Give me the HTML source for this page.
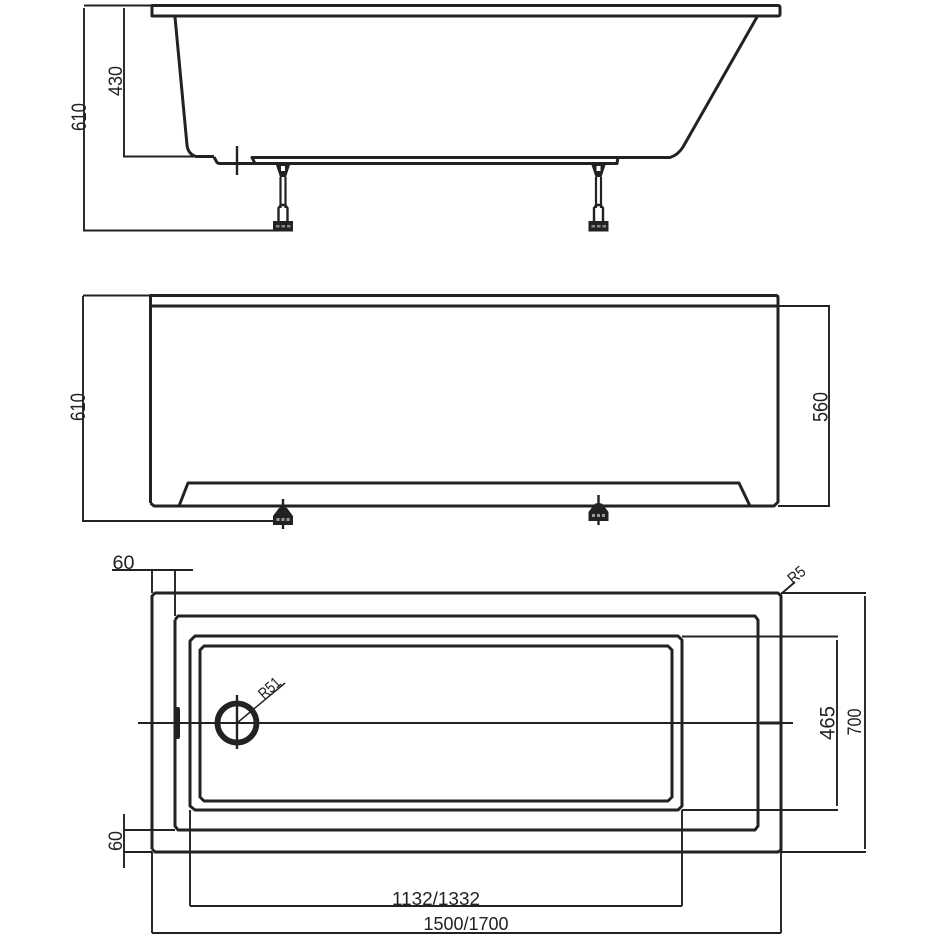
<!DOCTYPE html>
<html><head><meta charset="utf-8"><style>
html,body{margin:0;padding:0;background:#fff}
svg{display:block}
text{font-family:"Liberation Sans",sans-serif;font-size:19px;fill:#222;text-anchor:middle}
.t{stroke:#222;stroke-width:3;fill:none;stroke-linejoin:round}
.m{stroke:#222;stroke-width:1.9;fill:none}
</style></head><body>
<svg width="936" height="936" viewBox="0 0 936 936" xmlns="http://www.w3.org/2000/svg">
<defs>
<g id="leg">
<path d="M-8 162H8L3 177H-3Z" fill="#222"/>
<rect x="-2" y="166" width="4" height="5" fill="#fff"/>
<path d="M-2.500 177V208M2.500 177V208" stroke="#222" stroke-width="2.200" fill="none"/>
<path d="M-4.500 221V208L-2 205H2L4.500 208V221" stroke="#222" stroke-width="2.400" fill="none"/>
<rect x="-10" y="221" width="20" height="10.500" fill="#222"/>
<rect x="-7" y="225" width="3.500" height="2.500" fill="#888"/><rect x="-1.500" y="225" width="3.500" height="2.500" fill="#888"/><rect x="4" y="225" width="3.500" height="2.500" fill="#888"/>
</g>
<g id="foot">
<path d="M-1.200 0H1.200V8L4 9L10 17V26H1.200V30H-1.200V26H-10V17L-4 9L-1.200 8Z" fill="#222"/>
<rect x="-6.500" y="19" width="3" height="3" fill="#999"/><rect x="-1.500" y="19" width="3" height="3" fill="#999"/><rect x="3.500" y="19" width="3" height="3" fill="#999"/>
</g>
</defs>

<!-- Side view -->
<path class="t" d="M152 5.500H778Q780 5.500 780 8V14Q780 16 778 16H152Z"/>
<path class="t" d="M175 17L187 145Q188 154 196 156.500H214"/>
<path class="t" d="M214 157L217 162.500Q218 163.500 220 163.500H255L252 157.500H670Q678 155 683 147L757 17"/>
<path class="t" d="M255 163.500H617L618 157"/>
<path class="m" d="M123 156.500H214"/>
<path class="m" d="M237 146V175" style="stroke-width:2.400"/>
<use href="#leg" x="283"/><use href="#leg" x="598.500"/>
<path class="m" d="M84 5.500H152M84 8V230.500H273M124 8V156"/>
<text transform="translate(86,117) rotate(-90)" style="font-size:21px" textLength="28" lengthAdjust="spacingAndGlyphs">610</text>
<text transform="translate(122,81) rotate(-90)" textLength="30" lengthAdjust="spacingAndGlyphs">430</text>

<!-- Front view -->
<path class="t" d="M150.500 503V295.500H776Q778 295.500 778 298V502L774 506H154L150.500 503"/>
<path class="t" d="M150.500 306H778"/>
<path class="t" d="M179 506L188 483H739L750 506"/>
<path class="m" d="M83 295.500H150M83 296V521H273M778 306H830M778 506H830M829 307V505"/>
<use href="#foot" x="283" y="499"/><use href="#foot" x="598.500" y="495"/>
<text transform="translate(85,407) rotate(-90)" style="font-size:21px" textLength="28" lengthAdjust="spacingAndGlyphs">610</text>
<text transform="translate(827.500,407) rotate(-90)" style="font-size:21px" textLength="30" lengthAdjust="spacingAndGlyphs">560</text>

<!-- Plan view -->
<path class="t" d="M152 849V596L155 593H778L781 596V850L778 852H155L152 849"/>
<path class="t" d="M175 620L178 616H755L758 620V826L755 830H178L175 826V620"/>
<path class="t" d="M190 641L195 636H678L682 640V806L678 810H195L190 806Z"/>
<path class="t" d="M200 650L204 646H668L672 650V797L668 801H204L200 797Z"/>
<circle cx="237" cy="723" r="19.500" fill="none" stroke="#222" stroke-width="5.800"/>
<path class="m" d="M138 723H793"/>
<path class="m" d="M237 695V749" style="stroke-width:2.400"/>
<path class="m" d="M237 723L285 683" style="stroke-width:1.500"/>
<path d="M760 721.500H781V724.500H760Z" fill="#222"/>
<rect x="174.500" y="707" width="5.500" height="32" rx="2" fill="#222"/>
<text transform="translate(273,692) rotate(-42)" style="font-size:16px" textLength="24" lengthAdjust="spacingAndGlyphs">R51</text>
<text transform="translate(800,579) rotate(-40)" style="font-size:16px" textLength="18" lengthAdjust="spacingAndGlyphs">R5</text>
<path class="m" d="M781 594L795 582"/>
<!-- dims -->
<path class="m" d="M112 570H193M152 570V593M175 570V616"/>
<text x="123.500" y="569" textLength="22" lengthAdjust="spacingAndGlyphs">60</text>
<path class="m" d="M124 814V868M124 830H175M124 852H152"/>
<text transform="translate(122,841) rotate(-90)" textLength="20" lengthAdjust="spacingAndGlyphs">60</text>
<path class="m" d="M152 852V933M190 810V906M682 810V906M781 852V933M190 906H682M152 933H781"/>
<text x="436" y="905" style="font-size:18px" textLength="88" lengthAdjust="spacingAndGlyphs">1132/1332</text>
<text x="466" y="930" style="font-size:18px" textLength="85" lengthAdjust="spacingAndGlyphs">1500/1700</text>
<path class="m" d="M682 636.500H838M682 810H838M837 640V806M781 593H866M781 852H866M865 596V849"/>
<text transform="translate(834.500,723) rotate(-90)" style="font-size:21px" textLength="34" lengthAdjust="spacingAndGlyphs">465</text>
<text transform="translate(861,722) rotate(-90)" textLength="27" lengthAdjust="spacingAndGlyphs">700</text>
</svg>
</body></html>
